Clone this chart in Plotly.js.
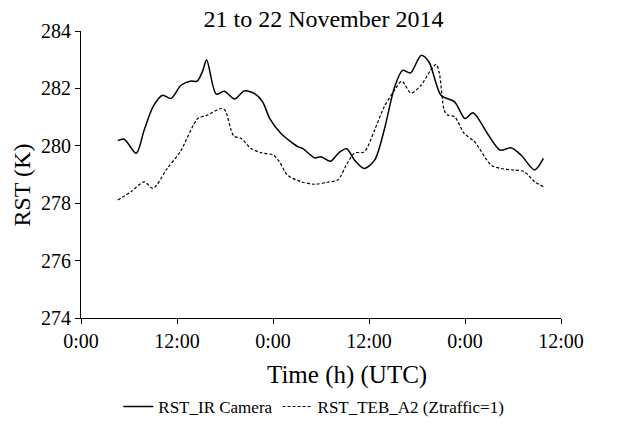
<!DOCTYPE html>
<html>
<head>
<meta charset="utf-8">
<script src="https://cdn.plot.ly/plotly-3.0.1.min.js"></script>
<style>html,body{margin:0;padding:0;background:#fff;}#chart{width:638px;height:424px;}</style>
</head>
<body>
<div id="chart"></div>
<script>
// Hours since 0:00 on 21 November 2014 (UTC)
const irHours = [4.6, 5.4, 6.9, 7.9, 9.0, 10.2, 11.25, 12.5, 13.75, 14.5, 15.2, 15.7, 16.9, 17.9, 19.2, 20.4, 21.7, 22.7, 23.6, 25.0, 27.1, 27.7, 29.2, 30.0, 31.2, 32.2, 33.2, 34.2, 35.4, 36.7, 37.9, 39.2, 40.2, 41.2, 42.5, 43.5, 45.0, 46.7, 48.0, 49.0, 50.8, 52.4, 53.75, 55.0, 56.7, 57.8];
const irTemp  = [280.18, 280.23, 279.74, 280.55, 281.36, 281.76, 281.65, 282.11, 282.26, 282.25, 282.6, 283.0, 281.8, 281.9, 281.63, 281.91, 281.82, 281.53, 280.95, 280.43, 279.97, 279.91, 279.58, 279.62, 279.46, 279.75, 279.9, 279.5, 279.21, 279.5, 280.55, 282.05, 282.63, 282.54, 283.15, 282.92, 281.76, 281.53, 280.95, 281.15, 280.43, 279.85, 279.93, 279.68, 279.16, 279.56];

const tebHours = [4.6, 6.25, 7.9, 9.0, 10.8, 12.4, 14.6, 15.8, 17.5, 18.0, 19.1, 20.0, 21.25, 22.5, 24.0, 24.8, 25.8, 27.5, 29.2, 30.8, 32.1, 33.3, 34.2, 35.4, 36.7, 37.9, 39.2, 40.1, 41.25, 42.5, 43.7, 44.4, 44.8, 45.4, 45.8, 46.7, 47.9, 49.2, 51.25, 52.5, 53.9, 55.4, 56.7, 57.8];
const tebTemp  = [278.11, 278.4, 278.74, 278.52, 279.22, 279.79, 280.95, 281.07, 281.3, 281.24, 280.34, 280.26, 279.91, 279.76, 279.68, 279.45, 278.98, 278.75, 278.66, 278.73, 278.81, 279.4, 279.75, 279.79, 280.55, 281.36, 281.94, 282.25, 281.84, 282.11, 282.63, 282.84, 282.52, 281.24, 281.07, 281.01, 280.43, 280.14, 279.33, 279.21, 279.16, 279.1, 278.75, 278.58];

const xTickVals = [0, 12, 24, 36, 48, 60];
const xTickText = ['0:00', '12:00', '0:00', '12:00', '0:00', '12:00'];
const yTickVals = [274, 276, 278, 280, 282, 284];

const seriesNames = ['RST_IR Camera', 'RST_TEB_A2 (Ztraffic=1)'];
const chartTitle = '21 to 22 November 2014';
const xTitle = 'Time (h) (UTC)';
const yTitle = 'RST (K)';

const font = 'Liberation Serif, Times New Roman, serif';

const traces = [
  {x: irHours, y: irTemp, name: seriesNames[0], type: 'scatter', mode: 'lines',
   line: {color: '#000', width: 1.5, shape: 'spline', smoothing: 0.8}},
  {x: tebHours, y: tebTemp, name: seriesNames[1], type: 'scatter', mode: 'lines',
   line: {color: '#000', width: 1.2, dash: '3px,2px', shape: 'spline', smoothing: 0.8}}
];

const layout = {
  width: 638, height: 424,
  margin: {l: 81, r: 77, t: 31, b: 106, autoexpand: false},
  paper_bgcolor: '#fff', plot_bgcolor: '#fff',
  font: {family: font, color: '#000', size: 20},
  title: {text: chartTitle, font: {family: font, size: 24, color: '#000'},
          x: 0.507, xanchor: 'center', y: 0.955, yanchor: 'middle'},
  xaxis: {range: [0, 60], tickvals: xTickVals, ticktext: xTickText, automargin: false,
          showgrid: false, zeroline: false, showline: true, linecolor: '#000', linewidth: 1,
          ticks: 'outside', ticklen: 5, tickcolor: '#000', tickfont: {size: 20}},
  yaxis: {range: [274, 284], tickvals: yTickVals, automargin: false,
          showgrid: false, zeroline: false, showline: true, linecolor: '#000', linewidth: 1,
          ticks: 'outside', ticklen: 5, tickcolor: '#000', tickfont: {size: 20}},
  annotations: [
    {text: xTitle, xref: 'paper', yref: 'paper', x: 0.555, y: -0.2, xanchor: 'center', yanchor: 'middle',
     showarrow: false, font: {size: 25}},
    {text: yTitle, xref: 'paper', yref: 'paper', x: -0.123, y: 0.465, xanchor: 'center', yanchor: 'middle',
     textangle: -90, showarrow: false, font: {size: 24}}
  ],
  showlegend: true,
  legend: {orientation: 'h', x: 0.485, xanchor: 'center', y: -0.31, yanchor: 'middle',
           font: {size: 17}, bgcolor: 'rgba(0,0,0,0)', itemwidth: 30}
};

Plotly.newPlot('chart', traces, layout, {displayModeBar: false, staticPlot: true});
</script>
</body>
</html>
